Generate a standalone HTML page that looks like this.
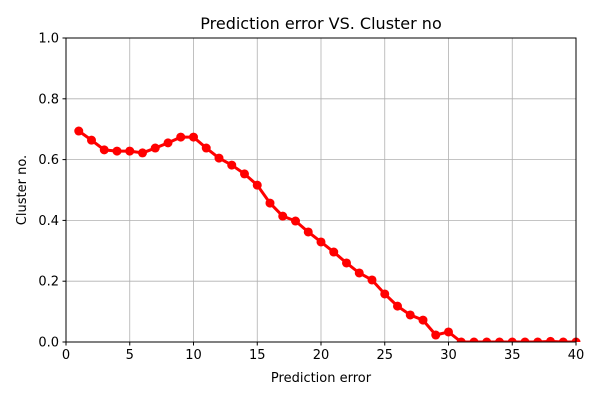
<!DOCTYPE html>
<html><head><meta charset="utf-8"><style>
body{margin:0;background:#fff;font-family:"Liberation Sans","DejaVu Sans",sans-serif;}
svg text{font-family:"DejaVu Sans","Liberation Sans",sans-serif;}
</style></head><body>
<svg id="chart" width="600" height="400"></svg>
<script>
const xValues=[1,2,3,4,5,6,7,8,9,10,11,12,13,14,15,16,17,18,19,20,21,22,23,24,25,26,27,28,29,30,31,32,33,34,35,36,37,38,39,40];
const yValues=[0.694,0.664,0.632,0.628,0.628,0.622,0.638,0.655,0.674,0.674,0.638,0.605,0.582,0.553,0.516,0.457,0.414,0.398,0.362,0.329,0.296,0.260,0.227,0.204,0.158,0.118,0.089,0.072,0.023,0.033,0,0,0,0,0,0,0,0.002,0,0];
const xTicks=[0,5,10,15,20,25,30,35,40];
const yTicks=[0,0.2,0.4,0.6,0.8,1.0];
const yTickLabels=["0.0","0.2","0.4","0.6","0.8","1.0"];
const NS="http://www.w3.org/2000/svg";
const svg=document.getElementById('chart');
const L=66,R=576,T=38,B=342;
const sx=v=>L+(v-0)/(40-0)*(R-L);
const sy=v=>B-(v-0)/(1-0)*(B-T);
function mk(tag,attrs,parent){const e=document.createElementNS(NS,tag);for(const k in attrs)e.setAttribute(k,attrs[k]);(parent||svg).appendChild(e);return e;}
const grid=mk('g',{});


xTicks.forEach(t=>{mk('line',{x1:sx(t),x2:sx(t),y1:T,y2:B,stroke:'#b0b0b0','stroke-width':0.8},grid);});
yTicks.forEach(t=>{mk('line',{x1:L,x2:R,y1:sy(t),y2:sy(t),stroke:'#b0b0b0','stroke-width':0.8},grid);});
const xa=mk('g',{});


xTicks.forEach(t=>{mk('line',{x1:sx(t),x2:sx(t),y1:B,y2:B+3.5,stroke:'#000'},xa);const tx=mk('text',{x:sx(t),y:B+17,'text-anchor':'middle','font-size':13},xa);tx.textContent=t;});
const ya=mk('g',{});


yTicks.forEach((t,i)=>{mk('line',{x1:L-3.5,x2:L,y1:sy(t),y2:sy(t),stroke:'#000'},ya);const tx=mk('text',{x:L-7,y:sy(t)+4.5,'text-anchor':'end','font-size':13},ya);tx.textContent=yTickLabels[i];});
const series=mk('g',{});


const clip=mk('clipPath',{id:'c'});mk('rect',{x:L,y:T-10,width:R-L+10,height:B-T+10},clip);
series.setAttribute('clip-path','url(#c)');
mk('polyline',{points:xValues.map((x,i)=>sx(x)+','+sy(yValues[i])).join(' '),fill:'none',stroke:'#ff0000','stroke-width':3,'stroke-linejoin':'round'},series);
xValues.forEach((x,i)=>{const c=mk('circle',{cx:sx(x),cy:sy(yValues[i]),r:4.5,fill:'#ff0000'},series);});
const fr=mk('rect',{x:L,y:T,width:R-L,height:B-T,fill:'none',stroke:'#000','stroke-width':1});


const title=mk('text',{x:(L+R)/2,y:29,'text-anchor':'middle','font-size':16});title.textContent='Prediction error VS. Cluster no';


const xt=mk('text',{x:(L+R)/2,y:382,'text-anchor':'middle','font-size':13});xt.textContent='Prediction error';


const yt=mk('text',{x:0,y:0,'text-anchor':'middle','font-size':13,transform:'translate(26,'+((T+B)/2)+') rotate(-90)'});yt.textContent='Cluster no.';


</script>
</body></html>
